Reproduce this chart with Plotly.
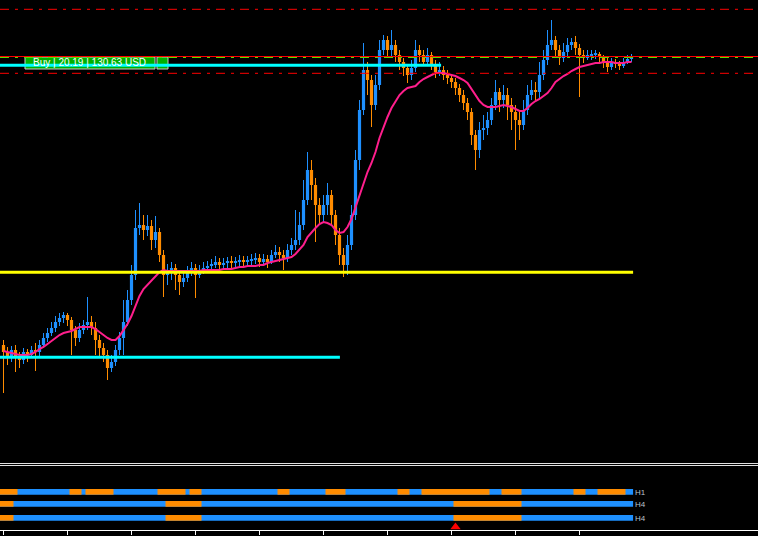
import plotly.graph_objects as go

# ---------------- data ----------------
opens = [255,248,242,250,244,240,248,245,250,248,255,262,267,272,278,282,285,280,270,262,
         270,275,278,272,260,252,245,232,238,250,262,278,300,325,372,375,370,374,360,368,
         345,325,330,332,325,318,322,330,332,325,330,332,334,335,338,335,337,338,337,338,
         340,338,339,340,342,338,341,338,345,348,345,342,350,355,360,375,400,430,415,395,
         385,395,405,385,365,345,335,355,385,440,490,530,520,495,515,550,560,550,555,545,
         538,532,525,532,550,545,538,545,535,528,530,525,522,518,512,505,497,488,465,450,
         470,472,480,495,508,500,505,495,488,480,475,490,505,510,508,525,540,555,560,550,
         542,548,555,558,552,545,542,544,545,546,543,538,533,538,536,534,538,541]
closes = [248,242,250,244,240,248,245,250,248,255,262,267,272,278,282,285,280,270,262,270,
          275,278,272,260,252,245,232,238,250,262,278,300,325,372,375,370,374,360,368,345,
          325,330,332,325,318,322,330,332,325,330,332,334,335,338,335,337,338,337,338,340,
          338,339,340,342,338,341,338,345,348,345,342,350,355,360,375,400,430,415,395,385,
          395,405,385,365,345,335,355,385,440,490,530,520,495,515,550,560,550,555,545,538,
          532,525,532,550,545,538,545,535,528,530,525,522,518,512,505,497,488,465,450,470,
          472,480,495,508,500,505,495,488,480,475,490,505,510,508,525,540,555,560,550,542,
          548,555,558,552,545,542,545,545,546,543,538,533,538,536,534,538,541,543]
highs = [260,253,254,255,248,252,251,254,257,260,267,272,278,284,287,288,287,283,274,277,
         280,303,284,278,265,257,250,245,255,268,300,310,335,390,397,385,385,380,384,372,
         350,336,338,336,330,328,334,338,336,335,338,339,341,344,342,342,343,344,343,345,
         344,344,346,347,346,346,345,350,355,353,350,356,362,390,388,420,448,440,422,402,
         405,417,410,390,372,352,365,395,450,500,557,538,525,525,560,565,564,570,560,550,
         542,536,540,560,555,550,552,548,540,538,534,530,526,522,516,510,502,492,470,478,
         485,488,502,520,512,515,512,502,495,488,500,515,520,518,538,550,570,580,564,555,
         557,562,562,564,556,550,550,550,550,548,545,542,542,541,539,542,545,546]
lows = [207,235,238,228,232,236,238,242,229,244,252,258,264,268,274,277,274,245,254,258,
        266,270,265,245,244,238,220,228,234,245,245,274,295,320,365,360,364,350,352,338,
        303,315,320,310,305,313,318,324,302,322,326,328,330,332,330,331,332,332,333,334,
        333,334,335,336,333,335,332,336,342,338,330,338,345,350,355,370,395,400,358,375,
        378,385,375,355,335,323,325,350,380,430,485,505,473,490,510,545,542,544,538,530,
        524,517,520,528,538,534,535,530,522,524,520,516,512,505,498,490,480,455,430,442,
        460,465,475,490,488,492,480,470,450,460,470,485,500,500,502,520,535,550,542,535,
        538,542,550,545,503,537,540,540,541,538,532,528,530,532,530,532,536,538]
ma = [249,248,247,246,245,245,245,246,248,251,253,256,259,262,265,267,268,269,271,273,
      273,273,273,271,268,265,262,260,260,264,270,276,284,294,304,311,315,320,324,328,
      330,329,329,329,329,329,329,329,329,329,330,330,330,330,330,331,331,331,332,333,
      333,334,334,334,335,335,337,338,339,340,341,342,343,346,350,355,363,368,372,376,
      378,377,375,370,367,368,373,381,393,405,418,428,437,448,462,473,483,492,499,505,
      509,512,513,514,518,521,523,525,527,527,527,526,525,524,522,520,517,511,504,499,
      495,493,493,493,494,495,494,493,491,489,489,492,496,499,501,504,507,512,518,521,
      524,526,529,531,533,534,535,536,537,537,538,538,538,537,537,537,538,538]

# horizontal chart objects (price levels, start/end bar index)
tp_sl_levels = [590.7, 526.7]
ask_level = 543.5
bid_level = 542.5
buy_level = 534.7
buy_line_end = 109.4
yellow_level = 327.7
yellow_end = 157.4
cyan_level = 242.7
cyan_end = 84.1
order_label = "Buy | 20.19 | 130.63 USD"

# multi-timeframe trend strips (run lengths, starting with a bearish run)
strip_names = ["H1", "H4", "H4"]
h1_counts = [4,13,3,1,7,11,7,1,3,19,3,9,5,13,3,3,17,3,5,13,3,3,7,2]
h4_counts = [3,38,9,63,17,28]
h4b_counts = [3,38,9,63,17,28]
signal_bars = [113]

# ---------------- figure ----------------
BULL = "#1E90FF"
BEAR = "#FF8C00"
W, H = 758, 536
n = len(closes)
idx = list(range(n))
x_lo = -0.875
x_hi = x_lo + W / 4.0
DASHDOT = "9px,6px,3px,6px"

fig = go.Figure()

# wicks
for col, up in ((BULL, True), (BEAR, False)):
    xs, ys = [], []
    for i in idx:
        if (closes[i] >= opens[i]) == up:
            xs += [i, i, None]
            ys += [lows[i], highs[i], None]
    fig.add_trace(go.Scatter(x=xs, y=ys, mode="lines", line=dict(color=col, width=1),
                             hoverinfo="skip", showlegend=False, xaxis="x", yaxis="y"))

# bodies
base = [min(o, c) for o, c in zip(opens, closes)]
size = [max(abs(c - o), 1.5) for o, c in zip(opens, closes)]
cols = [BULL if c >= o else BEAR for o, c in zip(opens, closes)]
fig.add_trace(go.Bar(x=idx, y=size, base=base, width=0.8, marker=dict(color=cols, line=dict(width=0)),
                     hoverinfo="skip", showlegend=False, xaxis="x", yaxis="y"))

# moving average
fig.add_trace(go.Scatter(x=idx, y=ma, mode="lines", line=dict(color="#FF1E8C", width=2),
                         hoverinfo="skip", showlegend=False, xaxis="x", yaxis="y"))

# levels
for lv in tp_sl_levels:
    fig.add_trace(go.Scatter(x=[x_lo, x_hi], y=[lv, lv], mode="lines",
                             line=dict(color="#FF0000", width=1, dash=DASHDOT),
                             hoverinfo="skip", showlegend=False))
fig.add_trace(go.Scatter(x=[x_lo, x_hi], y=[ask_level, ask_level], mode="lines",
                         line=dict(color="#FF0000", width=1), hoverinfo="skip", showlegend=False))
fig.add_trace(go.Scatter(x=[x_lo, x_hi], y=[bid_level, bid_level], mode="lines",
                         line=dict(color="#55E000", width=1, dash=DASHDOT),
                         hoverinfo="skip", showlegend=False))
fig.add_trace(go.Scatter(x=[x_lo, yellow_end], y=[yellow_level, yellow_level], mode="lines",
                         line=dict(color="#FFFF00", width=3), hoverinfo="skip", showlegend=False))
fig.add_trace(go.Scatter(x=[x_lo, cyan_end], y=[cyan_level, cyan_level], mode="lines",
                         line=dict(color="#00FFFF", width=3), hoverinfo="skip", showlegend=False))
fig.add_trace(go.Scatter(x=[x_lo, buy_line_end], y=[buy_level, buy_level], mode="lines",
                         line=dict(color="#00FFFF", width=3), hoverinfo="skip", showlegend=False))

# trend strips: a full bullish ribbon, with bearish runs laid on top
row_center = [38.15, 26.15, 12.15]
strip_end = n - 0.6
for cnts, yc in zip([h1_counts, h4_counts, h4b_counts], row_center):
    starts, lens = [], []
    pos, bear = -0.5, True
    for c in cnts:
        if bear:
            s = x_lo if pos < 0 else pos
            starts.append(s)
            lens.append(pos + c - s)
        pos += c
        bear = not bear
    fig.add_trace(go.Bar(orientation="h", y=[yc], x=[strip_end - x_lo], base=[x_lo], width=5.7,
                         marker=dict(color=BULL, line=dict(width=0)),
                         hoverinfo="skip", showlegend=False, xaxis="x", yaxis="y2"))
    fig.add_trace(go.Bar(orientation="h", y=[yc] * len(starts), x=lens, base=starts, width=5.7,
                         marker=dict(color=BEAR, line=dict(width=0)),
                         hoverinfo="skip", showlegend=False, xaxis="x", yaxis="y2"))
fig.add_trace(go.Scatter(x=signal_bars, y=[3.0] * len(signal_bars), mode="markers",
                         marker=dict(symbol="triangle-up", size=9, color="#FF0000"),
                         hoverinfo="skip", showlegend=False, xaxis="x", yaxis="y2"))

annotations = []
for name, yc in zip(strip_names, row_center):
    annotations.append(dict(x=157.3, y=yc - 0.3, xref="x", yref="y2", text=name, showarrow=False,
                            xanchor="left", yanchor="middle",
                            font=dict(family="Liberation Sans", size=8, color="#B8C4CC")))
annotations.append(dict(x=89 / W, y=1 - 63 / H, xref="paper", yref="paper", text=order_label,
                        showarrow=False, xanchor="center", yanchor="middle",
                        font=dict(family="Liberation Sans", size=10, color="white")))

shapes = [
    dict(type="rect", xref="paper", yref="paper", x0=25 / W, x1=155 / W, y0=1 - 69 / H, y1=1 - 57 / H,
         fillcolor="#00B000", line=dict(color="#C8C8C8", width=1), layer="below"),
    dict(type="rect", xref="paper", yref="paper", x0=157 / W, x1=168 / W, y0=1 - 69 / H, y1=1 - 57 / H,
         fillcolor="#00B000", line=dict(color="#C8C8C8", width=1), layer="below"),
    dict(type="line", xref="paper", yref="paper", x0=0, x1=1, y0=1 - 463.5 / H, y1=1 - 463.5 / H,
         line=dict(color="#E0E0E0", width=1)),
    dict(type="line", xref="paper", yref="paper", x0=0, x1=1, y0=1 - 465.5 / H, y1=1 - 465.5 / H,
         line=dict(color="#E0E0E0", width=1)),
]

fig.update_layout(
    width=W, height=H, margin=dict(l=0, r=0, t=0, b=0),
    paper_bgcolor="black", plot_bgcolor="black", barmode="overlay",
    showlegend=False, annotations=annotations, shapes=shapes,
    xaxis=dict(range=[x_lo, x_hi], anchor="y2", showgrid=False, zeroline=False,
               showline=True, linecolor="white", linewidth=1,
               ticks="outside", ticklen=4, tickcolor="white", tickwidth=1,
               tickvals=list(range(0, n, 16)), showticklabels=False),
    yaxis=dict(domain=[74 / H, 1], range=[138, 600], visible=False, fixedrange=True),
    yaxis2=dict(domain=[6 / H, 69 / H], range=[0, 63], visible=False, fixedrange=True),
)

fig.write_html("out.html", config={"displayModeBar": False},
               post_script="document.body.style.margin='0';document.body.style.background='black';")
